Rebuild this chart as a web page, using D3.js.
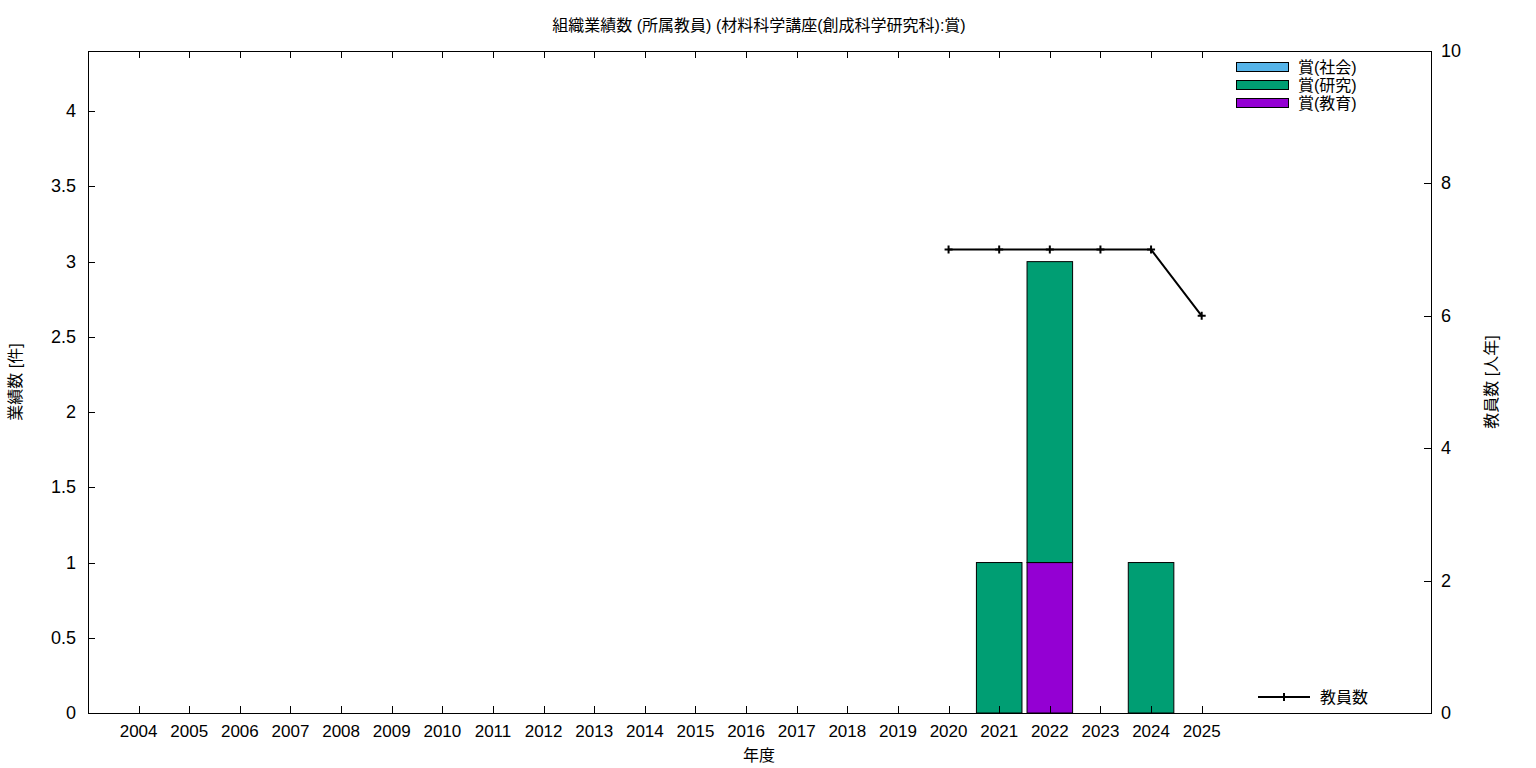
<!DOCTYPE html>
<html><head><meta charset="utf-8">
<script src="https://cdn.jsdelivr.net/npm/d3@7"></script>
<style>body{margin:0;background:#fff}svg{display:block}text{font-family:"Liberation Sans","Noto Sans CJK JP",sans-serif;fill:#000}</style>
</head><body>
<script>
const years = ["2004","2005","2006","2007","2008","2009","2010","2011","2012","2013","2014","2015","2016","2017","2018","2019","2020","2021","2022","2023","2024","2025"];
const seriesNames = ["賞(社会)","賞(研究)","賞(教育)"];
const seriesColors = ["#56b4e9","#009e73","#9400d3"];
const awardSocial   = [0,0,0,0,0,0,0,0,0,0,0,0,0,0,0,0,0,0,0,0,0,0];
const awardResearch = [0,0,0,0,0,0,0,0,0,0,0,0,0,0,0,0,0,1,2,0,1,0];
const awardEducation= [0,0,0,0,0,0,0,0,0,0,0,0,0,0,0,0,0,0,1,0,0,0];
const staffYears = ["2020","2021","2022","2023","2024","2025"];
const staffCount = [7,7,7,7,7,6];
const leftTicks = [0,0.5,1,1.5,2,2.5,3,3.5,4];
const rightTicks = [0,2,4,6,8,10];

const W=1536,H=768;
const L=88,R=1431,T=51,B=713;
const svg=d3.select("body").append("svg").attr("width",W).attr("height",H);

const x=d3.scaleLinear().domain([-1,25.53]).range([L,R]);
const y=d3.scaleLinear().domain([0,4.4]).range([B,T]);
const y2=d3.scaleLinear().domain([0,10]).range([B,T]);

const stackOrder=[{vals:awardEducation,c:seriesColors[2]},{vals:awardResearch,c:seriesColors[1]},{vals:awardSocial,c:seriesColors[0]}];
const bw=0.9;
years.forEach((yr,i)=>{
  let base=0;
  stackOrder.forEach(s=>{
    const v=s.vals[i];
    if(v>0){
      svg.append("rect").attr("x",x(i-bw/2)).attr("width",x(bw)-x(0))
        .attr("y",y(base+v)).attr("height",y(base)-y(base+v))
        .attr("fill",s.c).attr("stroke","#000").attr("stroke-width",1);
    }
    base+=v;
  });
});

svg.append("rect").attr("x",L+0.5).attr("y",T+0.5).attr("width",R-L).attr("height",B-T).attr("fill","none").attr("stroke","#000").attr("stroke-width",1);

const tk=svg.append("g").attr("stroke","#000").attr("stroke-width",1);
years.forEach((yr,i)=>{
  const xx=Math.round(x(i))+0.5;
  tk.append("line").attr("x1",xx).attr("x2",xx).attr("y1",B).attr("y2",B-7);
  tk.append("line").attr("x1",xx).attr("x2",xx).attr("y1",T).attr("y2",T+7);
  svg.append("text").attr("x",x(i)).attr("y",B+24).attr("text-anchor","middle").attr("font-size",17).text(yr);
});
leftTicks.forEach(v=>{
  const yy=Math.round(y(v))+0.5;
  tk.append("line").attr("x1",L).attr("x2",L+7).attr("y1",yy).attr("y2",yy);
  svg.append("text").attr("x",L-12).attr("y",y(v)+6).attr("text-anchor","end").attr("font-size",18).text(v);
});
rightTicks.forEach(v=>{
  const yy=Math.round(y2(v))+0.5;
  tk.append("line").attr("x1",R).attr("x2",R-7).attr("y1",yy).attr("y2",yy);
  svg.append("text").attr("x",R+10).attr("y",y2(v)+6).attr("text-anchor","start").attr("font-size",18).text(v);
});

const idx=staffYears.map(s=>years.indexOf(s));
const pts=idx.map((i,k)=>[x(i),y2(staffCount[k])]);
svg.append("path").attr("d",d3.line()(pts)).attr("fill","none").attr("stroke","#000").attr("stroke-width",2);
pts.forEach(p=>{
  svg.append("path").attr("d",`M${p[0]-4},${p[1]}H${p[0]+4}M${p[0]},${p[1]-4}V${p[1]+4}`).attr("stroke","#000").attr("stroke-width",2);
});

seriesNames.forEach((n,k)=>{
  const yy=62+k*18;
  svg.append("rect").attr("x",1236.5).attr("y",yy+0.5).attr("width",52).attr("height",9).attr("fill",seriesColors[k]).attr("stroke","#000").attr("stroke-width",1);
  svg.append("text").attr("x",1298).attr("y",yy+11).attr("font-size",16).text(n);
});
svg.append("path").attr("d","M1258,697H1310").attr("stroke","#000").attr("stroke-width",2);
svg.append("path").attr("d","M1280,697H1288M1284,693V701").attr("stroke","#000").attr("stroke-width",2);
svg.append("text").attr("x",1320).attr("y",703).attr("font-size",16).text("教員数");

svg.append("text").attr("x",759).attr("y",31).attr("text-anchor","middle").attr("font-size",16).text("組織業績数 (所属教員) (材料科学講座(創成科学研究科):賞)");
svg.append("text").attr("x",759).attr("y",761).attr("text-anchor","middle").attr("font-size",16).text("年度");
svg.append("text").attr("transform","translate(21,382) rotate(-90)").attr("text-anchor","middle").attr("font-size",16).text("業績数 [件]");
svg.append("text").attr("transform","translate(1497,382) rotate(-90)").attr("text-anchor","middle").attr("font-size",16).text("教員数 [人年]");
</script>
</body></html>
